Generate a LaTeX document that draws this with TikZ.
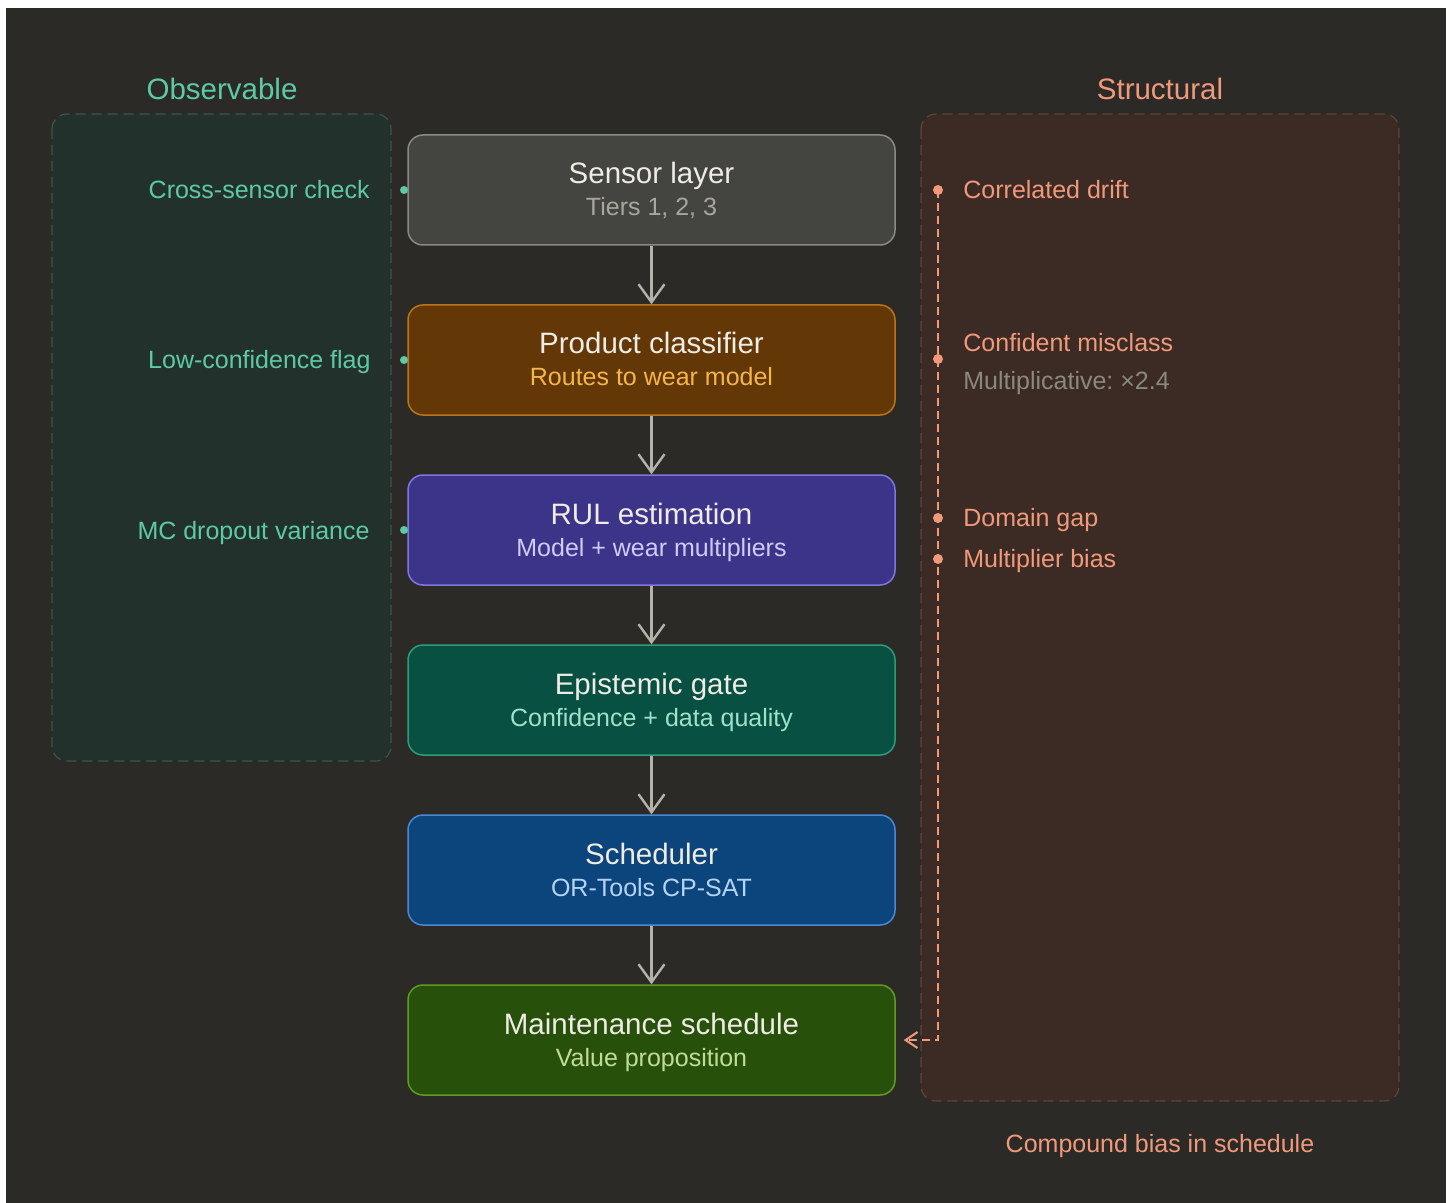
\documentclass[tikz,border=0pt]{standalone}
\usepackage{fontspec}
\setmainfont{Liberation Sans}
\usetikzlibrary{arrows.meta}
\definecolor{bgc}{HTML}{2B2A27}
\definecolor{obsfill}{HTML}{22312C}
\definecolor{obsline}{HTML}{3E544B}
\definecolor{strfill}{HTML}{3C2B24}
\definecolor{strline}{HTML}{5E4439}
\definecolor{obstext}{HTML}{5DCAA5}
\definecolor{strtext}{HTML}{F0997B}
\definecolor{multgray}{HTML}{8A8880}
\definecolor{arrgray}{HTML}{B4B2A9}
\definecolor{ttltext}{HTML}{EEECE4}
\definecolor{gfill}{HTML}{444441}\definecolor{gline}{HTML}{8A8984}\definecolor{gsub}{HTML}{A8A69E}
\definecolor{afill}{HTML}{633806}\definecolor{aline}{HTML}{BA7517}\definecolor{asub}{HTML}{F4B54C}
\definecolor{pfill}{HTML}{3C3489}\definecolor{pline}{HTML}{7F77DD}\definecolor{psub}{HTML}{CECBF6}
\definecolor{tfill}{HTML}{085041}\definecolor{tline}{HTML}{2E9C78}\definecolor{tsub}{HTML}{9FE1CB}
\definecolor{bfill}{HTML}{0C447C}\definecolor{bline}{HTML}{4A88D6}\definecolor{bsub}{HTML}{B5D4F4}
\definecolor{nfill}{HTML}{27500A}\definecolor{nline}{HTML}{639922}\definecolor{nsub}{HTML}{C0DD97}
\tikzset{
  stagebox/.style={rectangle, rounded corners=7.5pt, minimum width=243.5pt, minimum height=55pt, inner sep=0pt, line width=0.75pt},
  ttl/.style={anchor=base, inner sep=0pt, font=\fontsize{14.75}{17}\selectfont, text=ttltext},
  sub/.style={anchor=base, inner sep=0pt, font=\fontsize{12.5}{15}\selectfont},
  lbl/.style={inner sep=0pt, font=\fontsize{12.5}{15}\selectfont},
  head/.style={anchor=base, inner sep=0pt, font=\fontsize{14.75}{17}\selectfont},
  flowarrow/.style={draw=arrgray, line width=1.2pt, -{Straight Barb[length=9pt,width=13pt,line width=1.2pt]}},
  tdot/.style={circle, fill=obstext, inner sep=0pt, minimum size=4pt},
  sdot/.style={circle, fill=strtext, inner sep=0pt, minimum size=5pt},
  panel/.style={rounded corners=7.5pt, line width=0.6pt, dash pattern=on 5pt off 3pt},
}
\begin{document}
\begin{tikzpicture}[x=0.5pt,y=-0.5pt]
\useasboundingbox (0,0) rectangle (1450,1203);
\fill[white] (0,0) rectangle (1450,1203);
\fill[bgc] (6,8) rectangle (1446,1203);
% panels
\draw[panel, fill=obsfill, draw=obsline] (52,114) rectangle (391,761);
\draw[panel, fill=strfill, draw=strline] (921,114) rectangle (1399,1101);
\node[head, text=obstext] (obshead) at (222,100) {Observable};
\node[head, text=strtext] (strhead) at (1160,100) {Structural};
% stages
\node[stagebox, fill=gfill, draw=gline] (sensor) at (651.5,190) {};
\node[stagebox, fill=afill, draw=aline] (classifier) at (651.5,360) {};
\node[stagebox, fill=pfill, draw=pline] (rul) at (651.5,530) {};
\node[stagebox, fill=tfill, draw=tline] (gate) at (651.5,700) {};
\node[stagebox, fill=bfill, draw=bline] (sched) at (651.5,870) {};
\node[stagebox, fill=nfill, draw=nline] (maint) at (651.5,1040) {};
\node[ttl] (sensorT) at (651.5,184) {Sensor layer};
\node[sub, text=gsub] (sensorS) at (651.5,216) {Tiers 1, 2, 3};
\node[ttl] (classT) at (651.5,354) {Product classifier};
\node[sub, text=asub] (classS) at (651.5,386) {Routes to wear model};
\node[ttl] (rulT) at (651.5,524) {RUL estimation};
\node[sub, text=psub] (rulS) at (651.5,556) {Model + wear multipliers};
\node[ttl] (gateT) at (651.5,694) {Epistemic gate};
\node[sub, text=tsub] (gateS) at (651.5,726) {Confidence + data quality};
\node[ttl] (schedT) at (651.5,864) {Scheduler};
\node[sub, text=bsub] (schedS) at (651.5,896) {OR-Tools CP-SAT};
\node[ttl] (maintT) at (651.5,1034) {Maintenance schedule};
\node[sub, text=nsub] (maintS) at (651.5,1066) {Value proposition};
% flow arrows
\draw[flowarrow] (sensor.south) -- (classifier.north);
\draw[flowarrow] (classifier.south) -- (rul.north);
\draw[flowarrow] (rul.south) -- (gate.north);
\draw[flowarrow] (gate.south) -- (sched.north);
\draw[flowarrow] (sched.south) -- (maint.north);
% observable labels
\node[lbl, anchor=base east, text=obstext] (o1) at (370,199) {Cross-sensor check};
\node[lbl, anchor=base east, text=obstext] (o2) at (371,369) {Low-confidence flag};
\node[lbl, anchor=base east, text=obstext] (o3) at (370,539) {MC dropout variance};
\node[tdot] (od1) at (404,190) {};
\node[tdot] (od2) at (404,360) {};
\node[tdot] (od3) at (404,530) {};
% structural chain
\coordinate (chainstart) at (938,190);
\draw[strtext, line width=1pt, dash pattern=on 4pt off 2.5pt, -{Straight Barb[length=6pt,width=8pt,line width=1pt]}]
  (chainstart) |- ([xshift=4pt]maint.east);
\node[sdot] (sd1) at (938,190) {};
\node[sdot] (sd2) at (938,359) {};
\node[sdot] (sd3) at (938,518) {};
\node[sdot] (sd4) at (938,559) {};
\node[lbl, anchor=base west, text=strtext] (s1) at (963,199) {Correlated drift};
\node[lbl, anchor=base west, text=strtext] (s2) at (963,352) {Confident misclass};
\node[lbl, anchor=base west, text=multgray] (s2b) at (963,390) {Multiplicative:~×2.4};
\node[lbl, anchor=base west, text=strtext] (s3) at (963,526) {Domain gap};
\node[lbl, anchor=base west, text=strtext] (s4) at (963,567) {Multiplier bias};
\node[lbl, anchor=base, text=strtext] (compound) at (1160,1152) {Compound bias in schedule};
\end{tikzpicture}
\end{document}
